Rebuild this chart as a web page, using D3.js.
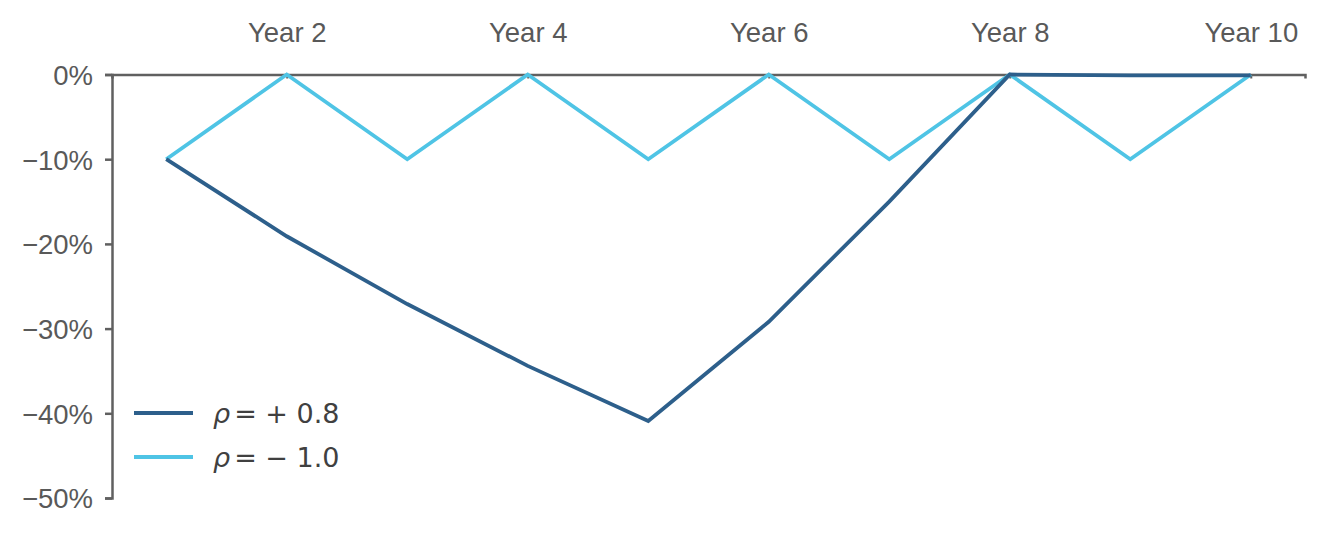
<!DOCTYPE html>
<html>
<head>
<meta charset="utf-8">
<script src="https://cdn.jsdelivr.net/npm/d3@7"></script>
<style>
  body { margin: 0; background: #fff; }
  svg text { font-family: "Liberation Sans", Arial, sans-serif; }
</style>
</head>
<body>
<div class="visHolder"></div>
<script>
const years = [1, 2, 3, 4, 5, 6, 7, 8, 9, 10];
const posCorr = [-10, -19.1, -27.1, -34.4, -40.9, -29.2, -15, 0, -0.1, -0.1];
const negCorr = [-10, 0, -10, 0, -10, 0, -10, 0, -10, 0];
const xTicks = [2, 4, 6, 8, 10];
const yTicks = [0, -10, -20, -30, -40, -50];
const seriesValues = ["+ 0.8", "\u2212 1.0"];
const seriesColors = ["#2d5f8b", "#4fc4e5"];

const width = 1326;
const height = 536;
const plotLeft = 112, plotRight = 1305, plotTop = 74.5, plotBottom = 498;
const axisColor = "#606060";

const svg = d3.select(".visHolder")
    .append("svg")
    .attr("width", width)
    .attr("height", height);

// Scales
const xScale = d3.scaleLinear()
    .domain([0.55, 10.45])
    .range([plotLeft, plotRight]);

const yScale = d3.scaleLinear()
    .domain([-50, 0])
    .range([plotBottom, plotTop]);

// Lines
const line = d3.line()
    .x((d, i) => xScale(years[i]))
    .y(d => yScale(d));

// Top x-axis (zero line)
const xAxis = svg.append("g")
    .attr("transform", `translate(0, ${plotTop})`)
    .call(d3.axisTop(xScale).tickValues(xTicks).tickSize(-4).tickPadding(33)
        .tickFormat(d => `Year ${d}`));
xAxis.select(".domain").attr("stroke", axisColor).attr("stroke-width", 2.5);
xAxis.selectAll(".tick line").attr("stroke", axisColor).attr("stroke-width", 2);
xAxis.selectAll(".tick text")
    .attr("fill", "#595959")
    .style("font-size", "27.5px");

// Left y-axis
const yAxis = svg.append("g")
    .attr("transform", `translate(${plotLeft}, 0)`)
    .call(d3.axisLeft(yScale).tickValues(yTicks).tickSize(7).tickPadding(12)
        .tickFormat(d => (d < 0 ? "\u2212" + Math.abs(d) : d) + "%"));
yAxis.select(".domain").attr("stroke", axisColor).attr("stroke-width", 2.5);
yAxis.selectAll(".tick line").attr("stroke", axisColor).attr("stroke-width", 2.5);
yAxis.selectAll(".tick text")
    .attr("fill", "#595959")
    .attr("dy", "0.36em")
    .style("font-size", "27.5px");

[negCorr, posCorr].forEach((s, k) => {
    svg.append("path")
        .datum(s)
        .attr("fill", "none")
        .attr("stroke", seriesColors[1 - k])
        .attr("stroke-width", 3.8)
        .attr("stroke-linejoin", "miter")
        .attr("d", line);
});

// Legend
const legend = svg.append("g").attr("transform", "translate(134, 413)");
seriesValues.forEach((val, i) => {
    const g = legend.append("g").attr("transform", `translate(0, ${i * 44})`);
    g.append("line")
        .attr("x1", 0).attr("x2", 59)
        .attr("stroke", seriesColors[i])
        .attr("stroke-width", 4);
    const t = g.append("text")
        .attr("x", 79)
        .attr("dy", "0.36em")
        .attr("fill", "#404040")
        .style("font-family", "'DejaVu Sans', sans-serif")
        .style("font-size", "27px");
    t.append("tspan").style("font-style", "italic").text("\u03c1");
    t.append("tspan").text("= " + val).attr("dx", 4);
});
</script>
</body>
</html>
